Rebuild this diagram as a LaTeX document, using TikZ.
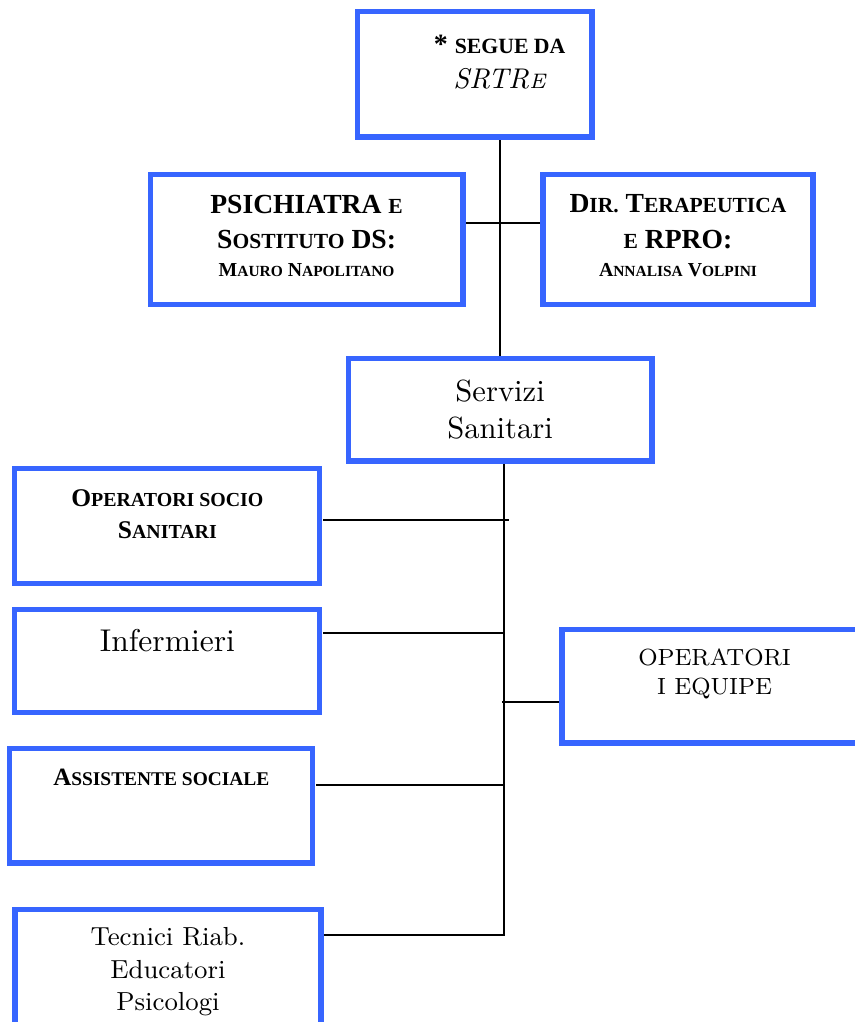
\documentclass[tikz,border=0pt]{standalone}
\usepackage{fontspec}
\usetikzlibrary{positioning}
\newfontfamily\timesfont{Liberation Serif}
\newfontfamily\timessmall{Liberation Serif}[Scale=0.78]
\definecolor{boxblue}{RGB}{55,101,255}
\newcommand{\smcap}[1]{{\timessmall\bfseries #1}}
\newcommand{\boxtext}[3]{\parbox[c][#1][t]{76pt}{\centering\vspace*{#2}#3}}
\tikzstyle{orgbox} = [rectangle, draw=boxblue, line width=1.7pt, fill=white, inner sep=0pt, minimum width=101.7pt, minimum height=38.3pt]
\tikzstyle{heading} = [font=\timesfont\bfseries\fontsize{9.2}{11.7}\selectfont]
\tikzstyle{orgline} = [line width=0.45pt]

\begin{document}
\begin{tikzpicture}[node distance=45pt]
\useasboundingbox (0,0) rectangle (285pt,-340.67pt);

\node (segue) [orgbox, minimum width=78.3pt, minimum height=41.7pt] at (158.2pt,-24.8pt) {\boxtext{41.7pt}{7.6pt}{\timesfont\bfseries\fontsize{9.3}{11.7}\selectfont \hspace*{16.7pt}* \smcap{SEGUE DA}\\ \hspace*{16.7pt}{\rmfamily\mdseries\itshape\fontsize{9.5}{11.7}\selectfont SRTR{\fontsize{7}{11.7}\selectfont E}}}};
\node (psichiatra) [orgbox, heading, minimum width=104.3pt, minimum height=43.3pt, below of=segue, xshift=-56pt, yshift=-9.9pt] {\boxtext{43.3pt}{6.9pt}{PSICHIATRA \smcap{E}\\ S\smcap{OSTITUTO} DS:\\[-2.2pt] {\fontsize{6.6}{9.3}\selectfont M\smcap{AURO} N\smcap{APOLITANO}}}};
\node (direzione) [orgbox, heading, minimum width=90pt, minimum height=43.3pt, right of=psichiatra, xshift=78.8pt] {\boxtext{43.3pt}{6.9pt}{D\smcap{IR.} T\smcap{ERAPEUTICA}\\ \smcap{E} RPRO:\\[-2.2pt] {\fontsize{6.6}{9.3}\selectfont A\smcap{NNALISA} V\smcap{OLPINI}}}};
\node (servizi) [orgbox, minimum width=101.3pt, minimum height=34.3pt, below of=segue, xshift=8.5pt, yshift=-66.7pt] {\boxtext{34.3pt}{7.4pt}{\fontsize{10.2}{12.3}\selectfont Servizi\\ Sanitari}};

\node (oss) [orgbox, heading, below of=servizi, xshift=-110.9pt, yshift=6.3pt] {\boxtext{38.3pt}{7.2pt}{\fontsize{8.5}{10.7}\selectfont O\smcap{PERATORI SOCIO}\\ S\smcap{ANITARI}}};
\node (infermieri) [orgbox, minimum height=34.3pt, below of=oss] {\boxtext{34.3pt}{6.6pt}{\fontsize{10.5}{12.6}\selectfont Infermieri}};
\node (equipe) [orgbox, minimum height=37.7pt, below of=servizi, xshift=71.5pt, yshift=-47.3pt] {\boxtext{37.7pt}{6.3pt}{\fontsize{7.8}{9.7}\selectfont OPERATORI\\ I EQUIPE}};
\node (assistente) [orgbox, heading, minimum width=101pt, below of=infermieri, xshift=-2pt, yshift=-3.3pt] {\boxtext{38.3pt}{7pt}{\fontsize{8.3}{10.5}\selectfont A\smcap{SSISTENTE SOCIALE}}};
\node (tecnici) [orgbox, minimum width=102pt, minimum height=40pt, below of=assistente, xshift=2.2pt, yshift=-9.8pt] {\boxtext{40pt}{5.8pt}{\fontsize{8.7}{10.9}\selectfont Tecnici Riab.\\ Educatori\\ Psicologi}};

% vertical spine and branches
\coordinate (bus) at ([xshift=1.3pt]servizi.south);
\coordinate (ossport) at ([xshift=0.3pt, yshift=1.9pt]oss.east);
\coordinate (infport) at ([xshift=0.3pt, yshift=9.2pt]infermieri.east);
\coordinate (assport) at ([xshift=0.3pt, yshift=6.8pt]assistente.east);
\coordinate (equport) at ([xshift=-0.3pt, yshift=-5.2pt]equipe.west);

\draw [orgline] (servizi.north) -- (servizi.north |- segue.south);
\draw [orgline] ([xshift=0.3pt, yshift=5.4pt]psichiatra.east) -- ([xshift=-0.3pt, yshift=5.4pt]direzione.west);
\draw [orgline] ([xshift=0.3pt, yshift=11.6pt]tecnici.east) -| (bus);
\draw [orgline] (ossport) -- (ossport -| bus) -- ++(1.7pt,0);
\draw [orgline] (infport) -- (infport -| bus);
\draw [orgline] (assport) -- (assport -| bus);
\draw [orgline] (equport) -- (equport -| bus) -- ++(-0.7pt,0);

\end{tikzpicture}
\end{document}
